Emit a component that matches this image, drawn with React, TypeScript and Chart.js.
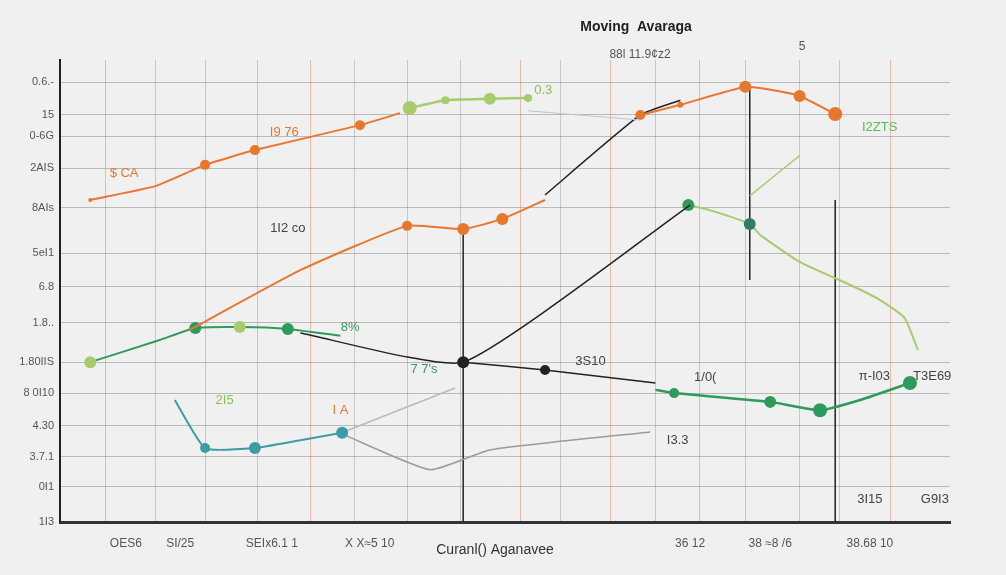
import React, { useEffect, useRef } from "react";
import { Chart, registerables } from "chart.js";

Chart.register(...registerables);

// ---- Data ----
const Y_TICK_VALUES = [95.2, 88.1, 83.5, 76.6, 68.0, 58.2, 50.9, 43.1, 34.6, 27.9, 20.8, 14.1, 7.6, 0];
const Y_TICK_LABELS = ["0.6.-", "15", "0-6G", "2AIS", "8AIs", "5eI1", "6.8", "1.8..", "1.80IIS", "8 0I10", "4.30", "3.7.1", "0I1", "1I3"];
const X_GRID_VALUES = [5.1, 10.7, 16.3, 22.2, 28.1, 33.1, 39.1, 45.0, 51.7, 56.2, 61.8, 66.9, 71.9, 77.0, 83.1, 87.6, 93.3];
const X_TICK_VALUES = [7.4, 13.5, 23.8, 34.8, 70.8, 79.8, 91.0];
const X_TICK_LABELS = ["OES6", "SI/25", "SEIx6.1 1", "X X\u22485 10", "36 12", "38 \u22488 /6", "38.68 10"];

const orangeTopX = [3.4, 10.7, 16.3, 21.9, 33.7, 38.2];
const orangeTopY = [69.7, 72.7, 77.3, 80.5, 85.9, 88.5];
const orangeRightX = [65.2, 69.7, 77.0, 80.0, 83.1, 87.1];
const orangeRightY = [88.1, 90.3, 94.2, 93.5, 92.2, 88.3];
const orangeMidX = [14.6, 27.0, 39.0, 45.3, 49.7, 54.5];
const orangeMidY = [41.6, 54.5, 64.1, 63.4, 65.6, 69.7];
const lightTopX = [39.3, 43.3, 48.3, 52.6];
const lightTopY = [89.6, 91.3, 91.6, 91.8];
const blackUpX = [54.5, 65.2, 69.7];
const blackUpY = [70.8, 88.1, 91.3];
const blackMidX = [27.0, 45.3, 70.8];
const blackMidY = [40.9, 34.6, 68.6];
const blackLowX = [45.3, 54.5, 66.9];
const blackLowY = [34.6, 32.9, 30.1];
const greenMidX = [3.4, 11.2, 15.2, 20.2, 25.6, 31.5];
const greenMidY = [34.6, 39.4, 42.0, 42.2, 41.8, 40.3];
const tealX = [12.9, 16.3, 21.9, 27.0, 31.7];
const tealY = [26.4, 16.0, 16.0, 17.7, 19.3];
const greyLowX = [32.0, 41.6, 48.3, 66.3];
const greyLowY = [18.8, 11.3, 15.6, 19.5];
const greyUpX = [32.0, 44.4];
const greyUpY = [19.6, 29.0];
const greenLowX = [66.9, 69.0, 79.8, 85.4, 89.9, 95.5];
const greenLowY = [28.6, 27.9, 26.0, 24.2, 26.4, 30.1];
const greenRightX = [70.6, 73.0, 77.5, 78.7, 83.1, 88.8, 92.1, 94.9, 96.4];
const greenRightY = [68.6, 67.5, 64.5, 62.1, 56.3, 51.3, 48.1, 44.2, 37.2];
const lightRightX = [77.5, 83.1];
const lightRightY = [70.6, 79.3];
const paleLineX = [52.6, 65.2];
const paleLineY = [89.0, 87.0];
const vLine1X = [45.3, 45.3];
const vLine1Y = [63.4, 0];
const vLine2X = [77.5, 77.5];
const vLine2Y = [94.2, 52.4];
const vLine3X = [87.1, 87.1];
const vLine3Y = [69.7, 0];

const NOTES = [
  { t: "$ CA", x: 7.2, y: 75.5, c: "#E8772E" },
  { t: "I9 76", x: 25.2, y: 84.4, c: "#E8772E" },
  { t: "1I2 co", x: 25.6, y: 63.5, c: "#444" },
  { t: "8%", x: 32.6, y: 42.2, c: "#3A9A5A" },
  { t: "7 7's", x: 40.9, y: 33.1, c: "#3A9A5A" },
  { t: "2I5", x: 18.5, y: 26.4, c: "#8BBF5A" },
  { t: "I A", x: 31.5, y: 24.2, c: "#E8772E" },
  { t: "3S10", x: 59.6, y: 34.8, c: "#444" },
  { t: "1/0(", x: 72.5, y: 31.2, c: "#444" },
  { t: "I3.3", x: 69.4, y: 17.7, c: "#444" },
  { t: "0.3", x: 54.3, y: 93.5, c: "#8BBF5A" },
  { t: "I2ZTS", x: 92.1, y: 85.3, c: "#5CB85C" },
  { t: "\u03c0-I03", x: 91.5, y: 31.6, c: "#444" },
  { t: "T3E69", x: 98.0, y: 31.6, c: "#444" },
  { t: "3I15", x: 91.0, y: 4.8, c: "#444" },
  { t: "G9I3", x: 98.3, y: 4.8, c: "#444" },
];

const pts = (xs: number[], ys: number[]) => xs.map((x, i) => ({ x, y: ys[i] }));

const ORANGE = "#E8772E";
const GREEN = "#2E9A5C";
const LIGHT = "#A6CC6E";
const TEAL = "#3C9CA6";
const BLACK = "#222";
const GREY = "#9A9A9A";

export default function App() {
  const ref = useRef<HTMLCanvasElement>(null);
  useEffect(() => {
    document.body.style.margin = "0";
    const ctx = ref.current!.getContext("2d")!;
    const line = (data: any, color: string, width: number, radius: number[] | number, pColor?: string[] | string) => ({
      data,
      borderColor: color,
      borderWidth: width,
      pointRadius: radius,
      pointBackgroundColor: pColor ?? color,
      pointBorderWidth: 0,
      tension: 0.15,
      fill: false,
    });
    const textPlugin = {
      id: "texts",
      afterDraw(chart: any) {
        const c = chart.ctx;
        const xs = chart.scales.x;
        const ys = chart.scales.y;
        c.save();
        c.textAlign = "center";
        c.textBaseline = "middle";
        c.fillStyle = "#222";
        c.font = "bold 14px 'Liberation Sans', Arial, sans-serif";
        c.fillText("Moving  Avaraga", 636, 27);
        c.font = "12px 'Liberation Sans', Arial, sans-serif";
        c.fillStyle = "#555";
        c.fillText("88l 11.9\u00a2z2", 640, 55);
        c.fillText("5", 802, 47);
        c.fillStyle = "#333";
        c.font = "14px 'Liberation Sans', Arial, sans-serif";
        c.fillText("Curanl() Aganavee", 495, 550);
        c.font = "13px 'Liberation Sans', Arial, sans-serif";
        for (const n of NOTES) {
          c.fillStyle = n.c;
          c.fillText(n.t, xs.getPixelForValue(n.x), ys.getPixelForValue(n.y));
        }
        c.restore();
      },
    };
    const chart = new Chart(ctx, {
      type: "line",
      data: {
        datasets: [
          line(pts(paleLineX, paleLineY), "#B8C8D0", 1, 0),
          line(pts(orangeTopX, orangeTopY), ORANGE, 2, [2, 0, 5, 5, 5, 0]),
          line(pts(orangeRightX, orangeRightY), ORANGE, 2, [5, 3, 6, 0, 6, 7]),
          line(pts(orangeMidX, orangeMidY), ORANGE, 2, [0, 0, 5, 6, 6, 0]),
          line(pts(lightTopX, lightTopY), LIGHT, 2.5, [7, 4, 6, 4]),
          line(pts(blackUpX, blackUpY), BLACK, 1.5, 0),
          line(pts(blackMidX, blackMidY), BLACK, 1.5, [0, 6, 0]),
          line(pts(blackLowX, blackLowY), BLACK, 1.5, [0, 5, 0]),
          line(pts(greenMidX, greenMidY), GREEN, 2, [6, 0, 6, 6, 6, 0], [LIGHT, GREEN, GREEN, LIGHT, GREEN, GREEN]),
          line(pts(tealX, tealY), TEAL, 2, [0, 5, 6, 0, 6]),
          line(pts(greyLowX, greyLowY), GREY, 1.5, 0),
          line(pts(greyUpX, greyUpY), "#BBBBBB", 1.5, 0),
          line(pts(greenLowX, greenLowY), GREEN, 2.5, [0, 5, 6, 7, 0, 7]),
          line(pts(greenRightX, greenRightY), LIGHT, 2, [6, 0, 6, 0, 0, 0, 0, 0, 0], [GREEN, LIGHT, "#2E7F6A", LIGHT, LIGHT, LIGHT, LIGHT, LIGHT, LIGHT]),
          line(pts(lightRightX, lightRightY), LIGHT, 1.5, 0),
          line(pts(vLine1X, vLine1Y), BLACK, 1.5, 0),
          line(pts(vLine2X, vLine2Y), BLACK, 1.5, 0),
          line(pts(vLine3X, vLine3Y), BLACK, 1.5, 0),
        ] as any,
      },
      options: {
        animation: false,
        responsive: false,
        layout: { padding: { left: 0, right: 56, top: 60, bottom: 20 } },
        plugins: { legend: { display: false }, tooltip: { enabled: false }, title: { display: false } },
        scales: {
          x: {
            type: "linear",
            min: 0,
            max: 100,
            afterBuildTicks: (s: any) => { s.ticks = X_GRID_VALUES.map((v) => ({ value: v })); },
            afterFit: (s: any) => { s.height = 0; },
            ticks: { display: false },
            grid: { color: (c: any) => (c.index % 2 === 0 ? "rgba(230,140,110,0.55)" : "rgba(150,150,150,0.45)"), lineWidth: 1, drawTicks: false },
            border: { color: "#333", width: 3 },
          },
          x2: {
            type: "linear",
            position: "bottom",
            min: 0,
            max: 100,
            afterBuildTicks: (s: any) => { s.ticks = X_TICK_VALUES.map((v) => ({ value: v })); },
            afterFit: (s: any) => { s.height = 33; },
            ticks: {
              callback: (_v: any, i: number) => X_TICK_LABELS[i],
              color: "#555",
              font: { size: 12, family: "'Liberation Sans', Arial, sans-serif" },
              maxRotation: 0,
              autoSkip: false,
              padding: 6,
            },
            grid: { display: false },
            border: { display: false },
          },
          y: {
            type: "linear",
            min: 0,
            max: 100,
            afterBuildTicks: (s: any) => { s.ticks = Y_TICK_VALUES.map((v) => ({ value: v })); },
            afterFit: (s: any) => { s.width = 60; },
            ticks: {
              callback: (_v: any, i: number) => Y_TICK_LABELS[i],
              color: "#555",
              font: { size: 11, family: "'Liberation Sans', Arial, sans-serif" },
              autoSkip: false,
              padding: 6,
            },
            grid: { color: "rgba(120,120,120,0.45)", lineWidth: 1, drawTicks: false },
            border: { color: "#222", width: 2 },
          },
        },
      } as any,
      plugins: [textPlugin],
    });
    return () => chart.destroy();
  }, []);
  return (
    <div style={{ position: "absolute", left: 0, top: 0, width: 1006, height: 575, background: "#F0F0F0" }}>
      <canvas ref={ref} width={1006} height={575} />
    </div>
  );
}
